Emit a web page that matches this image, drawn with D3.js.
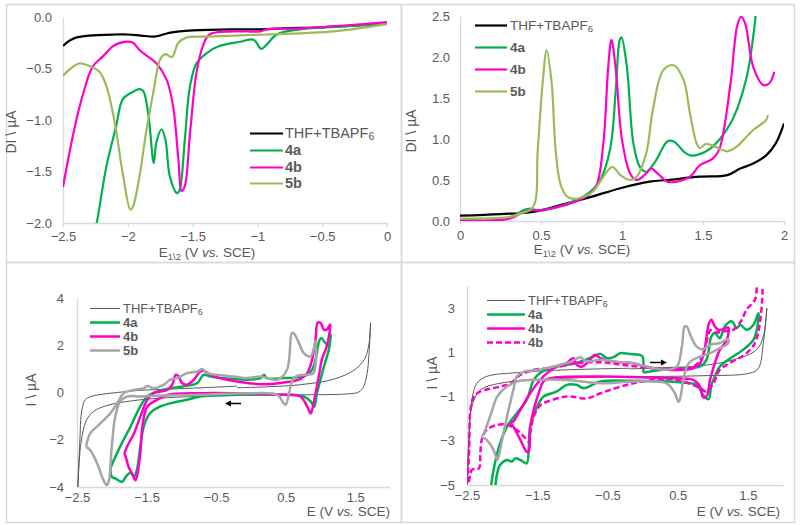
<!DOCTYPE html>
<html><head><meta charset="utf-8">
<script src="https://cdn.jsdelivr.net/npm/d3@7"></script>
<style>
body{margin:0;background:#fff}
svg{display:block}
text{font-family:"Liberation Sans",Arial,sans-serif;fill:#595959}
</style>
</head><body>
<svg id="chart" width="800" height="525"></svg>
<script>
// ---------- DATA ----------
const seriesNames = ["THF+TBAPF6", "4a", "4b", "5b"];
const p1XTicks = [-2.5, -2, -1.5, -1, -0.5, 0];
const p1YTicks = [0, -0.5, -1, -1.5, -2];
const p2XTicks = [0, 0.5, 1, 1.5, 2];
const p2YTicks = [0, 0.5, 1, 1.5, 2, 2.5];
const p3XTicks = [-2.5, -1.5, -0.5, 0.5, 1.5];
const p3YTicks = [-4, -2, 0, 2, 4];
const p4XTicks = [-2.5, -1.5, -0.5, 0.5, 1.5];
const p4YTicks = [-5, -3, -1, 1, 3];

// Panel 1: DPV reduction
const dpvRedTHF = [[-2.5,-0.28],[-2.45,-0.23],[-2.4,-0.2],[-2.3,-0.18],[-2.1,-0.17],[-2.0,-0.17],[-1.9,-0.18],[-1.8,-0.19],[-1.75,-0.18],[-1.7,-0.16],[-1.6,-0.14],[-1.5,-0.13],[-1.2,-0.12],[-1.0,-0.12],[-0.8,-0.11],[-0.5,-0.1],[-0.2,-0.08],[0,-0.065]];
const dpvRed4a = [[-2.26,-2.1],[-2.24,-2.0],[-2.165,-1.45],[-2.09,-1.06],[-2.04,-0.8],[-1.98,-0.74],[-1.907,-0.7],[-1.88,-0.72],[-1.84,-0.96],[-1.8,-1.42],[-1.78,-1.22],[-1.74,-1.09],[-1.71,-1.19],[-1.675,-1.55],[-1.62,-1.71],[-1.6,-1.68],[-1.56,-1.19],[-1.52,-0.67],[-1.47,-0.45],[-1.39,-0.35],[-1.29,-0.28],[-1.13,-0.24],[-1.03,-0.22],[-0.97,-0.31],[-0.93,-0.27],[-0.85,-0.17],[-0.67,-0.12],[-0.3,-0.09],[0,-0.06]];
const dpvRed4b = [[-2.5,-1.65],[-2.42,-1.13],[-2.35,-0.77],[-2.27,-0.48],[-2.19,-0.38],[-2.11,-0.28],[-2.01,-0.24],[-1.96,-0.25],[-1.91,-0.32],[-1.86,-0.37],[-1.78,-0.45],[-1.7,-0.61],[-1.65,-0.87],[-1.61,-1.38],[-1.585,-1.69],[-1.56,-1.64],[-1.52,-1.13],[-1.47,-0.54],[-1.42,-0.28],[-1.37,-0.17],[-1.19,-0.14],[-0.98,-0.14],[-0.93,-0.12],[-0.67,-0.11],[-0.3,-0.08],[0,-0.05]];
const dpvRed5b = [[-2.5,-0.57],[-2.44,-0.5],[-2.37,-0.45],[-2.29,-0.48],[-2.22,-0.53],[-2.165,-0.67],[-2.1,-1.03],[-2.04,-1.51],[-1.98,-1.87],[-1.96,-1.84],[-1.91,-1.55],[-1.86,-1.13],[-1.8,-0.71],[-1.75,-0.41],[-1.71,-0.36],[-1.66,-0.39],[-1.61,-0.25],[-1.55,-0.2],[-1.39,-0.19],[-0.93,-0.17],[-0.41,-0.14],[0,-0.07]];

// Panel 2: DPV oxidation
const dpvOxTHF = [[0,0.065],[0.25,0.085],[0.45,0.11],[0.66,0.215],[0.82,0.3],[0.99,0.4],[1.17,0.48],[1.28,0.5],[1.48,0.54],[1.65,0.56],[1.73,0.64],[1.81,0.7],[1.89,0.8],[1.95,0.95],[2.0,1.19]];
const dpvOx4a = [[0,0.01],[0.25,0.01],[0.33,0.06],[0.39,0.13],[0.43,0.15],[0.45,0.14],[0.51,0.13],[0.66,0.21],[0.78,0.32],[0.86,0.48],[0.926,0.87],[0.963,1.64],[0.985,2.2],[0.997,2.24],[1.03,1.88],[1.07,0.95],[1.11,0.66],[1.15,0.6],[1.21,0.74],[1.28,0.97],[1.32,0.97],[1.38,0.85],[1.42,0.8],[1.52,0.85],[1.6,0.99],[1.69,1.27],[1.77,1.76],[1.81,2.25],[1.83,2.6]];
const dpvOx4b = [[0,0.01],[0.31,0.03],[0.39,0.11],[0.43,0.13],[0.49,0.13],[0.66,0.2],[0.78,0.3],[0.84,0.42],[0.885,0.95],[0.915,1.88],[0.935,2.21],[0.96,1.88],[1.0,0.99],[1.05,0.58],[1.09,0.5],[1.15,0.58],[1.18,0.64],[1.22,0.58],[1.28,0.48],[1.34,0.48],[1.42,0.54],[1.48,0.68],[1.56,0.76],[1.6,0.87],[1.67,1.68],[1.71,2.37],[1.735,2.49],[1.76,2.41],[1.81,1.88],[1.87,1.66],[1.91,1.68],[1.94,1.82]];
const dpvOx5b = [[0,0.03],[0.31,0.05],[0.37,0.09],[0.45,0.17],[0.48,0.87],[0.51,1.68],[0.535,2.08],[0.566,1.68],[0.59,0.87],[0.62,0.45],[0.66,0.3],[0.7,0.27],[0.74,0.28],[0.82,0.36],[0.885,0.54],[0.94,0.66],[0.99,0.56],[1.05,0.5],[1.09,0.54],[1.15,0.83],[1.19,1.35],[1.255,1.84],[1.32,1.9],[1.38,1.72],[1.42,1.31],[1.46,0.95],[1.48,0.89],[1.52,0.94],[1.57,0.91],[1.65,0.85],[1.71,0.91],[1.77,1.03],[1.81,1.11],[1.89,1.23],[1.9,1.29]];

// Panel 3: CV
const cv1THF = [[-0.2,0.27],[-0.7,0.2],[-1.2,0.14],[-1.6,0.09],[-1.92,0.0],[-2.15,-0.08],[-2.3,-0.17],[-2.38,-0.3],[-2.43,-0.74],[-2.46,-2.1],[-2.49,-4.2],[-2.47,-3.0],[-2.45,-2.3],[-2.41,-1.6],[-2.36,-1.15],[-2.26,-0.8],[-2.07,-0.55],[-1.68,-0.34],[-1.2,-0.22],[-0.25,-0.13],[0.71,-0.1],[1.38,-0.06],[1.55,0.02],[1.62,0.25],[1.67,0.8],[1.7,1.7],[1.72,2.95],[1.7,2.1],[1.64,1.45],[1.5,0.98],[1.2,0.57],[0.71,0.33],[0.23,0.24],[-0.2,0.2]];
const cv14a = [[-2.02,-3.22],[-1.97,-2.86],[-1.88,-2.29],[-1.73,-1.44],[-1.59,-0.59],[-1.49,-0.17],[-1.35,0.04],[-1.16,0.18],[-0.92,0.28],[-0.77,0.4],[-0.68,0.75],[-0.58,0.68],[-0.44,0.61],[-0.25,0.57],[-0.05,0.54],[0.14,0.61],[0.19,0.75],[0.23,0.61],[0.47,0.61],[0.71,0.65],[0.81,0.75],[0.88,0.96],[0.93,1.39],[0.98,2.17],[1.01,2.31],[1.07,2.1],[1.12,1.98],[1.15,2.45],[1.12,1.81],[1.05,1.1],[1.0,0.54],[0.95,-0.03],[0.91,-0.6],[0.86,-0.38],[0.76,-0.17],[0.62,-0.1],[0.23,-0.1],[-0.25,-0.1],[-0.73,-0.17],[-0.92,-0.31],[-1.11,-0.42],[-1.3,-0.59],[-1.45,-0.88],[-1.54,-1.44],[-1.59,-2.29],[-1.64,-3.29],[-1.68,-3.54],[-1.73,-3.4],[-1.8,-3.57],[-1.85,-3.78],[-1.95,-3.64],[-2.0,-3.57],[-2.02,-3.22]];
const cv14b = [[-1.82,-2.6],[-1.78,-2.29],[-1.68,-1.73],[-1.59,-1.02],[-1.49,-0.31],[-1.4,-0.03],[-1.2,0.11],[-1.13,0.33],[-1.08,0.75],[-1.04,0.68],[-0.99,0.4],[-0.92,0.33],[-0.82,0.54],[-0.73,0.89],[-0.68,0.92],[-0.58,0.75],[-0.34,0.54],[-0.05,0.4],[0.23,0.35],[0.47,0.42],[0.71,0.57],[0.81,0.82],[0.88,1.39],[0.93,2.24],[0.96,2.95],[1.0,2.95],[1.05,2.66],[1.09,2.66],[1.14,2.88],[1.09,1.95],[1.02,1.39],[0.98,0.75],[0.93,-0.03],[0.88,-0.74],[0.86,-0.88],[0.81,-0.6],[0.71,-0.17],[0.47,-0.1],[-0.25,-0.03],[-0.73,-0.03],[-1.2,-0.1],[-1.35,-0.31],[-1.49,-0.6],[-1.56,-1.44],[-1.59,-2.58],[-1.64,-3.57],[-1.66,-3.71],[-1.71,-3.43],[-1.76,-3.14],[-1.8,-2.72],[-1.82,-2.6]];
const cv15b = [[-2.37,-2.29],[-2.31,-1.73],[-2.16,-1.3],[-2.02,-0.88],[-1.92,-0.45],[-1.83,-0.03],[-1.68,0.11],[-1.54,0.18],[-1.49,0.28],[-1.4,0.18],[-1.25,0.33],[-1.16,0.54],[-1.06,0.61],[-0.92,0.82],[-0.77,0.89],[-0.7,0.99],[-0.63,0.82],[-0.49,0.75],[-0.25,0.68],[-0.05,0.61],[0.14,0.68],[0.38,0.54],[0.52,0.96],[0.59,2.52],[0.62,2.49],[0.69,2.1],[0.76,1.67],[0.86,1.53],[0.9,1.81],[0.93,2.17],[0.9,0.82],[0.81,0.75],[0.67,0.71],[0.6,0.54],[0.55,-0.03],[0.5,-0.52],[0.47,-0.45],[0.38,-0.1],[-0.01,-0.03],[-0.73,-0.1],[-1.44,-0.14],[-1.59,-0.17],[-1.78,-0.17],[-1.88,-0.38],[-1.95,-1.02],[-2.0,-2.29],[-2.04,-3.71],[-2.07,-3.92],[-2.12,-3.71],[-2.21,-3.0],[-2.31,-2.44],[-2.37,-2.29]];

// Panel 4: CV
const cv2THF = [[-0.18,0.28],[-1.08,0.21],[-1.79,0.08],[-2.22,-0.09],[-2.36,-0.4],[-2.43,-1.15],[-2.48,-3.87],[-2.5,-5.2],[-2.48,-3.26],[-2.43,-1.45],[-2.31,-0.7],[-2.03,-0.4],[-1.55,-0.25],[-0.6,-0.12],[0.82,-0.06],[1.53,0.06],[1.65,0.28],[1.72,1.42],[1.77,3.0],[1.72,1.72],[1.62,1.11],[1.29,0.66],[0.82,0.39],[0.34,0.31],[-0.18,0.25]];
const cv24a = [[0.01,0.09],[0.34,0.24],[0.82,0.36],[0.91,0.66],[0.98,1.72],[1.03,1.87],[1.1,1.64],[1.17,2.17],[1.27,2.4],[1.34,2.09],[1.39,2.25],[1.48,2.02],[1.58,2.25],[1.65,2.77],[1.65,2.47],[1.58,1.57],[1.43,1.11],[1.29,0.81],[1.1,0.36],[1.03,-0.09],[0.98,-0.47],[0.94,-1.12],[0.86,-0.92],[0.77,-0.47],[0.58,-0.37],[-0.13,-0.29],[-0.6,-0.32],[-0.84,-0.62],[-0.94,-0.47],[-1.08,-0.47],[-1.22,-0.77],[-1.41,-1.0],[-1.5,-1.45],[-1.6,-2.36],[-1.62,-3.26],[-1.65,-4.02],[-1.74,-3.87],[-1.81,-3.79],[-1.86,-3.94],[-1.93,-3.87],[-2.03,-4.1],[-2.07,-4.47],[-2.12,-5.3],[-2.15,-5.3],[-2.07,-3.57],[-1.93,-2.36],[-1.79,-1.75],[-1.65,-1.15],[-1.55,-0.25],[-1.46,0.06],[-1.32,0.28],[-1.08,0.43],[-0.89,0.58],[-0.7,0.81],[-0.6,0.93],[-0.51,0.74],[-0.41,0.78],[-0.32,0.96],[-0.18,0.92],[-0.04,0.89],[0.0,0.81],[0.01,0.09]];
const cv24b = [[-1.88,-2.2],[-1.84,-2.13],[-1.74,-1.6],[-1.6,-0.85],[-1.46,-0.25],[-1.36,0.06],[-1.22,0.36],[-1.08,0.51],[-1.03,0.66],[-0.98,0.74],[-0.94,0.43],[-0.86,0.36],[-0.75,0.66],[-0.68,0.89],[-0.6,0.74],[-0.41,0.58],[-0.13,0.51],[-0.01,0.39],[0.34,0.21],[0.72,0.28],[0.82,0.51],[0.89,1.26],[0.94,2.25],[0.98,2.47],[1.03,2.17],[1.08,2.02],[1.15,2.05],[1.22,2.12],[1.2,1.57],[1.1,1.11],[1.03,0.51],[0.96,-0.25],[0.91,-1.0],[0.86,-1.03],[0.82,-0.55],[0.72,-0.25],[0.34,-0.17],[-0.6,-0.09],[-1.32,-0.17],[-1.41,-0.32],[-1.48,-0.85],[-1.55,-1.6],[-1.6,-2.36],[-1.62,-3.49],[-1.65,-3.49],[-1.74,-2.96],[-1.84,-2.36],[-1.88,-2.2]];
const cv24bScan2 = [[-2.5,-5.3],[-2.47,-3.5],[-2.45,-1.6],[-2.4,-1.0],[-2.31,-0.77],[-2.03,-0.55],[-1.88,-0.4],[-1.74,-0.02],[-1.55,0.21],[-1.36,0.28],[-1.18,0.36],[-0.98,0.5],[-0.6,0.55],[-0.2,0.4],[0.3,0.25],[0.72,0.35],[0.85,0.8],[0.92,1.6],[0.97,2.0],[1.05,1.9],[1.15,1.95],[1.29,2.02],[1.4,2.4],[1.48,2.92],[1.6,3.38],[1.65,4.3],[1.69,4.3],[1.62,1.57],[1.48,0.96],[1.24,0.51],[1.1,0.21],[1.01,-0.4],[0.91,-0.77],[0.82,-0.62],[0.58,-0.32],[0.34,-0.2],[-0.13,-0.4],[-0.6,-0.85],[-0.79,-1.08],[-1.08,-1.0],[-1.41,-1.3],[-1.46,-1.4],[-1.55,-1.9],[-1.6,-2.66],[-1.62,-3.04],[-1.69,-2.81],[-1.79,-2.51],[-1.93,-2.28],[-2.07,-2.28],[-2.22,-2.51],[-2.29,-2.96],[-2.31,-3.57],[-2.33,-4.25],[-2.43,-4.32],[-2.48,-5.3]];
const cv25b = [[-2.29,-2.81],[-2.22,-2.96],[-2.12,-3.42],[-2.07,-3.87],[-2.05,-3.72],[-2.0,-2.96],[-1.93,-1.9],[-1.84,-0.7],[-1.79,-0.09],[-1.69,0.13],[-1.5,0.2],[-1.35,0.3],[-1.15,0.45],[-1.0,0.6],[-0.89,0.78],[-0.8,0.6],[-0.6,0.66],[-0.37,0.58],[-0.13,0.51],[0.0,0.4],[0.34,0.21],[0.49,0.36],[0.56,1.26],[0.6,2.17],[0.63,2.17],[0.68,1.79],[0.77,1.26],[0.86,1.14],[0.96,1.34],[1.1,1.42],[1.22,1.6],[1.22,1.42],[1.1,1.19],[0.96,0.96],[0.82,0.81],[0.68,0.58],[0.63,0.36],[0.58,-0.25],[0.53,-1.15],[0.51,-1.23],[0.46,-0.85],[0.34,-0.4],[-0.13,-0.32],[-0.6,-0.4],[-1.08,-0.25],[-1.55,-0.25],[-1.79,-0.32],[-1.93,-0.55],[-2.07,-1.0],[-2.14,-1.6],[-2.19,-2.06],[-2.26,-2.66],[-2.29,-2.81]];

// ---------- DRAW ----------
const svg = d3.select("#chart");
const AX = "#d9d9d9";
const C = {black:"#000000", green:"#00b050", pink:"#ff00cc", olive:"#9bbb59", gray:"#a6a6a6", thin:"#595959"};

[[6,4,395,258],[401,4,393,258],[6,262,395,260],[401,262,393,260]].forEach(r=>{
  svg.append("rect").attr("x",r[0]+0.5).attr("y",r[1]+0.5).attr("width",r[2]).attr("height",r[3])
    .attr("fill","none").attr("stroke",AX).attr("stroke-width",1.5);
});

let clipId = 0;
function panel(o){
  const x = d3.scaleLinear().domain(o.xd).range(o.xr);
  const y = d3.scaleLinear().domain(o.yd).range(o.yr);
  const g = svg.append("g");
  const id = "clip"+(clipId++);
  svg.append("clipPath").attr("id",id).append("rect")
    .attr("x",o.xr[0]).attr("y",Math.min(...o.yr)).attr("width",o.xr[1]-o.xr[0]).attr("height",Math.abs(o.yr[1]-o.yr[0]));
  const xa = g.append("g").attr("transform",`translate(0,${o.yr[0]})`)
    .call(d3.axisBottom(x).tickValues(o.xt).tickFormat(o.xf).tickSize(o.xtick).tickSizeOuter(0).tickPadding(o.xpad));
  const ya = g.append("g").attr("transform",`translate(${o.xr[0]},0)`)
    .call(d3.axisLeft(y).tickValues(o.yt).tickFormat(o.yf).tickSize(0).tickSizeOuter(0).tickPadding(o.ypad));
  [xa,ya].forEach(a=>{
    a.select(".domain").attr("stroke",AX).attr("stroke-width",1.3);
    a.selectAll(".tick line").attr("stroke",AX).attr("stroke-width",1.3);
    a.selectAll(".tick text").attr("fill","#595959").style("font-size","13px").style("font-family",'"Liberation Sans",Arial,sans-serif');
  });
  const lines = g.append("g").attr("class","plotlines").attr("clip-path",`url(#${id})`);
  const gen = d3.line().x(d=>x(d[0])).y(d=>y(d[1])).curve(d3.curveCatmullRom.alpha(0.5));
  o.series.forEach(s=>{
    lines.append("path").attr("d",gen(s.data)).attr("fill","none")
      .attr("stroke",s.color).attr("stroke-width",s.w).attr("stroke-linejoin","round")
      .attr("stroke-dasharray",s.dash||null);
  });
  o.series.forEach((s,i)=>{
    if(s.noLegend) return;
    const ly = o.leg.y[i] + 0.5;
    g.append("line").attr("x1",o.leg.x1).attr("x2",o.leg.x2).attr("y1",ly).attr("y2",ly)
      .attr("stroke",s.color).attr("stroke-width",s.w).attr("stroke-dasharray",s.dash||null);
    const t = g.append("text").attr("x",o.leg.tx).attr("y",ly+4.5).style("font-size",o.leg.fs+"px");
    if(s.name.startsWith("THF")){
      t.append("tspan").text("THF+TBAPF");
      t.append("tspan").text("6").style("font-size",(o.leg.fs-4)+"px").attr("dy",2);
    } else {
      t.text(s.name).style("font-weight","bold");
    }
  });
  return {x,y,g};
}

function xTitle(g,xpos,ypos,anchor,sub){
  const t = g.append("text").attr("x",xpos).attr("y",ypos).attr("text-anchor",anchor).style("font-size","13.5px");
  t.append("tspan").text("E");
  if(sub){ t.append("tspan").text(sub).style("font-size","9.5px").attr("dy",3); t.append("tspan").text(" (V ").attr("dy",-3); }
  else t.append("tspan").text(" (V ");
  t.append("tspan").text("vs.").style("font-style","italic");
  t.append("tspan").text(" SCE)");
}
function yTitle(g,xpos,ypos,label){
  g.append("text").attr("transform",`translate(${xpos},${ypos}) rotate(-90)`).attr("text-anchor","middle")
    .style("font-size","14px").text(label);
}
const f1 = d3.format(".1f");
const f0 = d => d3.format("")(d);

// Panel 1
const P1 = panel({xd:[-2.5,0], xr:[63,387], yd:[-2,0], yr:[223,17], xt:p1XTicks, yt:p1YTicks,
  xf:f0, yf:f1, xtick:4, xpad:5, ypad:11,
  series:[
    {name:seriesNames[0], data:dpvRedTHF, color:C.black, w:2.2},
    {name:seriesNames[1], data:dpvRed4a, color:C.green, w:2.2},
    {name:seriesNames[2], data:dpvRed4b, color:C.pink, w:2.2},
    {name:seriesNames[3], data:dpvRed5b, color:C.olive, w:2.2}],
  leg:{x1:250,x2:283,tx:285,y:[133,150,167,183],fs:14.5}});
xTitle(P1.g,207,257,"middle","1\\2");
yTitle(P1.g,16,132,"DI \\ µA");

// Panel 2
const P2 = panel({xd:[0,2], xr:[460,784], yd:[0,2.5], yr:[221,16], xt:p2XTicks, yt:p2YTicks,
  xf:f0, yf:f1, xtick:4, xpad:6, ypad:10,
  series:[
    {name:seriesNames[0], data:dpvOxTHF, color:C.black, w:2.2},
    {name:seriesNames[1], data:dpvOx4a, color:C.green, w:2.2},
    {name:seriesNames[2], data:dpvOx4b, color:C.pink, w:2.2},
    {name:seriesNames[3], data:dpvOx5b, color:C.olive, w:2.2}],
  leg:{x1:475,x2:507,tx:510,y:[25,47,69,91],fs:13.5}});
xTitle(P2.g,582,254,"middle","1\\2");
yTitle(P2.g,416,131,"DI \\ µA");

// Panel 3
const P3 = panel({xd:[-2.5,2], xr:[77,390], yd:[-4,4], yr:[487,298], xt:p3XTicks, yt:p3YTicks,
  xf:f0, yf:f0, xtick:0, xpad:6, ypad:13,
  series:[
    {name:seriesNames[0], data:cv1THF, color:C.thin, w:1},
    {name:seriesNames[1], data:cv14a, color:C.green, w:2.5},
    {name:seriesNames[2], data:cv14b, color:C.pink, w:2.5},
    {name:seriesNames[3], data:cv15b, color:C.gray, w:2.5}],
  leg:{x1:90,x2:120,tx:123,y:[308,322,336,350],fs:13}});
xTitle(P3.g,390,516,"end",null);
yTitle(P3.g,36,390,"I \\ µA");
P3.g.append("line").attr("x1",241).attr("x2",229).attr("y1",403.5).attr("y2",403.5).attr("stroke","#000").attr("stroke-width",1.5);
P3.g.append("path").attr("d","M225,403.5 L231,400.5 L231,406.5 Z").attr("fill","#000");

// Panel 4
const P4 = panel({xd:[-2.5,2], xr:[467,783], yd:[-5,4], yr:[485,286], xt:p4XTicks, yt:p4YTicks,
  xf:f0, yf:f0, xtick:0, xpad:6, ypad:12,
  series:[
    {name:seriesNames[0], data:cv2THF, color:C.thin, w:1},
    {name:seriesNames[1], data:cv24a, color:C.green, w:2.5},
    {name:seriesNames[2], data:cv24b, color:C.pink, w:2.5},
    {name:seriesNames[2], data:cv24bScan2, color:C.pink, w:2.5, dash:"6,3"},
    {name:seriesNames[3], data:cv25b, color:C.gray, w:2.5, noLegend:true}],
  leg:{x1:487,x2:525,tx:528,y:[300,314,328,342],fs:13}});
xTitle(P4.g,780,516,"end",null);
yTitle(P4.g,437,373,"I \\ µA");
P4.g.append("line").attr("x1",650).attr("x2",662).attr("y1",362.5).attr("y2",362.5).attr("stroke","#000").attr("stroke-width",1.5);
P4.g.append("path").attr("d","M667,362.5 L661,359.5 L661,365.5 Z").attr("fill","#000");
</script>
</body></html>
